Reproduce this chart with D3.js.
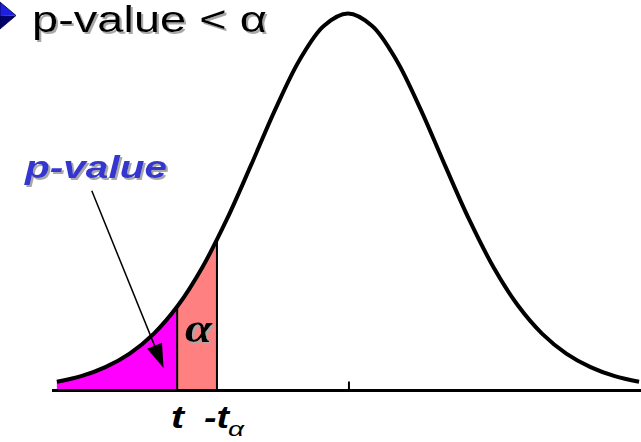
<!DOCTYPE html>
<html>
<head>
<meta charset="utf-8">
<script src="https://cdn.jsdelivr.net/npm/d3@7"></script>
<style>
  html, body { margin: 0; padding: 0; background: #fff; }
  svg { display: block; }
</style>
</head>
<body>
<div class="vis-density"></div>
<script>
// curve: x in t units, relative height (peak = 1)
const curveX = [-3, -2.75, -2.5, -2.25, -2, -1.75, -1.5, -1.25, -1, -0.75, -0.5, -0.25, 0,
                0.25, 0.5, 0.75, 1, 1.25, 1.5, 1.75, 2, 2.25, 2.5, 2.75, 3];
const curveY = [0.023, 0.038, 0.062, 0.098, 0.151, 0.226, 0.327, 0.453, 0.597, 0.745, 0.876, 0.967, 1,
                0.967, 0.876, 0.745, 0.597, 0.453, 0.327, 0.226, 0.151, 0.098, 0.062, 0.038, 0.023];
// critical values
const tValue = -1.76;
const tAlphaValue = -1.35;
const tickValues = [0];
const titleText = "p-value < \u03b1";
const pLabel = "p-value";

const width = 641, height = 442;
const config = {
    "magenta": "#ff00ff",
    "salmon": "#ff8080",
    "label-blue": "#3535d0",
    "shadow": "#a8a8a8"
};

const points = curveX.map((x, i) => ({x: x, y: curveY[i]}));

const svg = d3.select('.vis-density')
    .append("svg")
    .attr("width", width)
    .attr("height", height);

const xScale = d3.scaleLinear().domain([-3.05, 3.02]).range([52, 641]);
const yScale = d3.scaleLinear().domain([0, 1]).range([390.5, 13.5]);

const defs = svg.append("defs");
defs.append("filter").attr("id", "shadow")
    .attr("x", "-10%").attr("y", "-10%").attr("width", "130%").attr("height", "130%")
    .append("feDropShadow")
    .attr("dx", 2).attr("dy", 2).attr("stdDeviation", 0.3)
    .attr("flood-color", config["shadow"]).attr("flood-opacity", 1);

const areaGen = d3.area()
    .x(d => xScale(d.x))
    .y0(yScale(0))
    .y1(d => yScale(d.y))
    .curve(d3.curveCatmullRom);
const lineGen = d3.line()
    .x(d => xScale(d.x))
    .y(d => yScale(d.y))
    .curve(d3.curveCatmullRom);

// clip regions
defs.append("clipPath").attr("id", "clip-under")
    .append("path").attr("d", areaGen(points));
defs.append("clipPath").attr("id", "clip-pval")
    .append("rect")
    .attr("x", 0).attr("y", 0)
    .attr("width", xScale(tValue)).attr("height", height);
defs.append("clipPath").attr("id", "clip-alpha")
    .append("rect")
    .attr("x", xScale(tValue)).attr("y", 0)
    .attr("width", xScale(tAlphaValue) - xScale(tValue)).attr("height", height);

// shaded tails
svg.append("path")
    .attr("d", areaGen(points))
    .attr("fill", config["magenta"])
    .attr("clip-path", "url(#clip-pval)");
svg.append("path")
    .attr("d", areaGen(points))
    .attr("fill", config["salmon"])
    .attr("clip-path", "url(#clip-alpha)");

// vertical lines at t and -t_alpha, cut by the curve
svg.append("g")
    .attr("clip-path", "url(#clip-under)")
    .selectAll("line")
    .data([tValue, tAlphaValue])
    .enter()
    .append("line")
    .attr("x1", d => xScale(d)).attr("x2", d => xScale(d))
    .attr("y1", yScale(0)).attr("y2", yScale(1))
    .attr("stroke", "#000")
    .attr("stroke-width", 2);

// density curve
svg.append("path")
    .attr("d", lineGen(points))
    .attr("fill", "none")
    .attr("stroke", "#000")
    .attr("stroke-width", 4)
    .attr("stroke-linejoin", "round");

// axis
const axis = svg.append("g").attr("class", "axis_x");
axis.append("line")
    .attr("x1", xScale.range()[0]).attr("x2", xScale.range()[1])
    .attr("y1", yScale(0)).attr("y2", yScale(0))
    .attr("stroke", "#000")
    .attr("stroke-width", 3);
axis.selectAll(".tick")
    .data(tickValues)
    .enter()
    .append("line")
    .attr("class", "tick")
    .attr("x1", d => xScale(d) + 1).attr("x2", d => xScale(d) + 1)
    .attr("y1", yScale(0)).attr("y2", yScale(0) - 9)
    .attr("stroke", "#000")
    .attr("stroke-width", 2);

// text helper, stretched to the measured width
function addText(g, opts) {
    const t = g.append("text")
        .attr("x", opts.x)
        .attr("y", opts.y)
        .attr("fill", opts.fill)
        .attr("font-family", opts.family)
        .attr("font-size", opts.size)
        .attr("font-weight", opts.weight || "normal")
        .attr("font-style", opts.style || "normal")
        .attr("textLength", opts.len)
        .attr("lengthAdjust", "spacingAndGlyphs")
        .text(opts.text);
    if (opts.shadow) t.attr("filter", "url(#shadow)");
    return t;
}

// title bullet
const bullet = svg.append("g");
bullet.append("polygon")
    .attr("points", "0,2 16,15.5 0,16")
    .attr("fill", "#1f1fe0");
bullet.append("polygon")
    .attr("points", "0,16 16,15.5 0,29")
    .attr("fill", "#00006e");
bullet.append("polygon")
    .attr("points", "0,2 16,15.5 0,29")
    .attr("fill", "none")
    .attr("stroke", "#000040")
    .attr("stroke-width", 0.8);

addText(svg, {x: 32, y: 32, text: titleText, family: "Liberation Sans, Arial, sans-serif",
    size: 36, len: 235, fill: "#000", shadow: true});

addText(svg, {x: 25, y: 178, text: pLabel, family: "Liberation Sans, Arial, sans-serif",
    size: 32, weight: "bold", style: "italic", len: 142, fill: config["label-blue"], shadow: true});

addText(svg, {x: 185, y: 342, text: "\u03b1", family: "Liberation Serif, Times New Roman, serif",
    size: 40, weight: "bold", style: "italic", len: 27, fill: "#000", shadow: true});

// labels under the axis
addText(svg, {x: 171, y: 428, text: "t", family: "Liberation Sans, Arial, sans-serif",
    size: 32, weight: "bold", style: "italic", len: 13, fill: "#000"});
addText(svg, {x: 204, y: 428, text: "-t", family: "Liberation Sans, Arial, sans-serif",
    size: 32, weight: "bold", style: "italic", len: 25, fill: "#000"});
addText(svg, {x: 228, y: 436, text: "\u03b1", family: "Liberation Sans, Arial, sans-serif",
    size: 21, style: "italic", len: 16, fill: "#000"});

// arrow from label to p-value area
const a0 = [xScale(-2.64), yScale(0.53)];
const a1 = [xScale(-1.90), yScale(0.06)];
const dx = a1[0] - a0[0], dy = a1[1] - a0[1];
const len = Math.sqrt(dx * dx + dy * dy);
const ux = dx / len, uy = dy / len;
const headLen = 24, headHalf = 8;
const bx = a1[0] - ux * headLen, by = a1[1] - uy * headLen;
svg.append("line")
    .attr("x1", a0[0]).attr("y1", a0[1])
    .attr("x2", bx).attr("y2", by)
    .attr("stroke", "#000")
    .attr("stroke-width", 1.5);
svg.append("polygon")
    .attr("points", [
        [a1[0], a1[1]],
        [bx - uy * headHalf, by + ux * headHalf],
        [bx + uy * headHalf, by - ux * headHalf]
    ].map(p => p.join(",")).join(" "))
    .attr("fill", "#000");
</script>
</body>
</html>
